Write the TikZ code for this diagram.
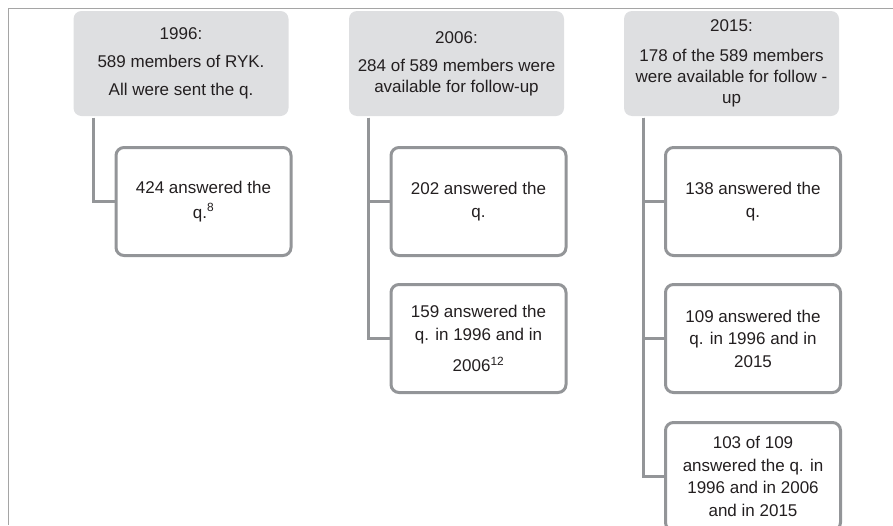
\documentclass[tikz,border=0pt]{standalone}
\usepackage{fontspec}
\setmainfont{Liberation Sans}
\definecolor{hdr}{RGB}{222,223,225}
\definecolor{ln}{RGB}{147,149,152}
\definecolor{txt}{RGB}{35,31,32}
\definecolor{frm}{RGB}{165,165,165}
\begin{document}
\begin{tikzpicture}[x=1pt,y=-1pt,
 hdrbox/.style={fill=hdr, rounded corners=8pt, minimum width=215pt, minimum height=105pt, inner sep=0pt, align=center, text=txt, font=\fontsize{17}{21}\selectfont},
 kidbox/.style={draw=ln, line width=3pt, fill=white, rounded corners=8pt, minimum width=175pt, minimum height=108pt, inner sep=0pt, align=center, text=txt, font=\fontsize{17}{22.5}\selectfont},
 conn/.style={draw=ln, line width=3pt}]
\clip (0,0) rectangle (893,525);
\draw[frm, line width=1pt] (8.3,525) -- (8.3,8.3) -- (893,8.3);
% headers
\node[hdrbox] (h1) at (181,63.5) {1996:\\[7pt]589 members of RYK.\\[7pt]All were sent the q.};
\node[hdrbox] (h2) at (456.5,63.5) {2006:\\[7pt]284 of 589 members were\\available for follow-up};
\node[hdrbox] (h3) at (731.5,63.5) {2015:\\[9pt]178 of the 589 members\\were available for follow -\\up};
% connector tops
\coordinate (t1) at ([xshift=20pt,yshift=-1.5pt]h1.south west);
\coordinate (t2) at ([xshift=20pt,yshift=-1.5pt]h2.south west);
\coordinate (t3) at ([xshift=19.5pt,yshift=-1.5pt]h3.south west);
% children
\node[kidbox] (c1) at (203.5,201.5) {424 answered the\\[2pt]q.\textsuperscript{8}};
\node[kidbox] (c2) at (478.5,201.5) {202 answered the\\q.};
\node[kidbox] (c3) at (478.5,338.5) {159 answered the\\q. in 1996 and in\\[9pt]2006\textsuperscript{12}};
\node[kidbox] (c4) at (753,201.5) {138 answered the\\q.};
\node[kidbox] (c5) at (753,338.5) {109 answered the\\q. in 1996 and in\\2015};
\node[kidbox] (c6) at (753,476.5) {103 of 109\\answered the q. in\\1996 and in 2006\\and in 2015};
% connectors
\draw[conn] (t1) |- (c1.west);
\draw[conn] (t2) |- (c2.west);
\draw[conn] (t2) |- (c3.west);
\draw[conn] (t3) |- (c4.west);
\draw[conn] (t3) |- (c5.west);
\draw[conn] (t3) |- (c6.west);
\end{tikzpicture}
\end{document}
